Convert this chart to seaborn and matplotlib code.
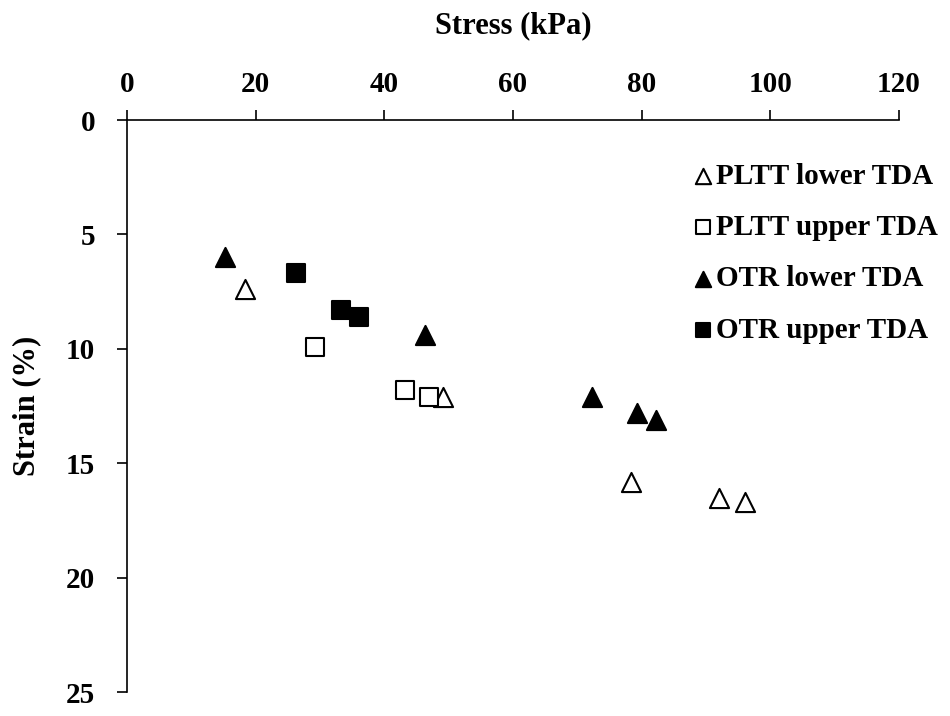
import matplotlib
matplotlib.use("Agg")
import matplotlib.pyplot as plt
import seaborn as sns
import pandas as pd

# Stress (kPa) and strain (%) readings per test series
pltt_lower_stress = [18.3, 49.1, 78.3, 92.0, 96.1]
pltt_lower_strain = [7.4, 12.1, 15.8, 16.5, 16.7]

pltt_upper_stress = [29.2, 43.2, 46.9]
pltt_upper_strain = [9.9, 11.8, 12.1]

otr_lower_stress = [15.2, 46.3, 72.3, 79.3, 82.2]
otr_lower_strain = [6.0, 9.4, 12.1, 12.8, 13.1]

otr_upper_stress = [26.3, 33.3, 36.1]
otr_upper_strain = [6.7, 8.3, 8.6]

series_names = ["PLTT lower TDA", "PLTT upper TDA", "OTR lower TDA", "OTR upper TDA"]
x_ticks = [0, 20, 40, 60, 80, 100, 120]
y_ticks = [0, 5, 10, 15, 20, 25]

sns.set_theme(style="white")
plt.rcParams["font.family"] = ["Liberation Serif", "DejaVu Serif"]
plt.rcParams["font.weight"] = "bold"
for key in ["text.color", "axes.labelcolor", "xtick.color", "ytick.color",
            "axes.edgecolor"]:
    plt.rcParams[key] = "black"

fig = plt.figure(figsize=(9.5, 7.16), dpi=100)
ax = fig.add_axes([0.1337, 0.0335, 0.8126, 0.7989])

frames = [
    (pltt_lower_stress, pltt_lower_strain, series_names[0], "^", "white"),
    (pltt_upper_stress, pltt_upper_strain, series_names[1], "s", "white"),
    (otr_lower_stress, otr_lower_strain, series_names[2], "^", "black"),
    (otr_upper_stress, otr_upper_strain, series_names[3], "s", "black"),
]

for xs, ys, name, mk, fc in frames:
    df = pd.DataFrame({"Stress": xs, "Strain": ys})
    sns.scatterplot(data=df, x="Stress", y="Strain", ax=ax, marker=mk,
                    s=190 if mk == "^" else 165, facecolor=fc, edgecolor="black",
                    linewidth=1.5, label=name, zorder=3)

ax.set_xlim(0, 120)
ax.set_ylim(25, 0)
ax.set_xticks(x_ticks)
ax.set_yticks(y_ticks)
ax.xaxis.tick_top()
ax.xaxis.set_label_position("top")

for side in ["right", "bottom"]:
    ax.spines[side].set_visible(False)
for side in ["top", "left"]:
    ax.spines[side].set_color("black")
    ax.spines[side].set_linewidth(1.2)

ax.tick_params(axis="x", which="major", direction="out", length=7, width=1.2,
               color="black", pad=9, labelsize=21, top=True, bottom=False)
ax.tick_params(axis="y", which="major", direction="out", length=7, width=1.2,
               color="black", pad=16, labelsize=21, left=True)
for lbl in ax.get_xticklabels() + ax.get_yticklabels():
    lbl.set_fontweight("bold")

ax.set_xlabel("Stress (kPa)", fontsize=22, fontweight="bold", labelpad=27)
ax.set_ylabel("Strain (%)", fontsize=22, fontweight="bold", labelpad=18)

leg = ax.legend(loc="upper left", bbox_to_anchor=(0.733, 0.925), frameon=False,
                borderaxespad=0, borderpad=0, handletextpad=0.1, handlelength=0.7,
                labelspacing=0.83, markerscale=0.8,
                prop={"family": "Liberation Serif", "weight": "bold", "size": 21})

ax.grid(False)
fig.savefig("out.png", dpi=100, facecolor="white")
